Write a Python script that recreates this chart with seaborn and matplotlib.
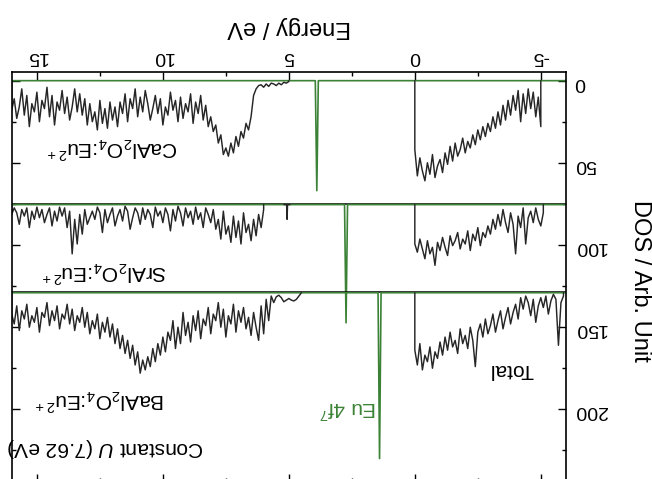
import numpy as np
import pandas as pd
import seaborn as sns
import matplotlib.pyplot as plt
from matplotlib.ticker import MultipleLocator

# DOS traces read off the (upside-down) scan, depth below each panel's baseline
# energy grid step 0.1 eV
ca_vb_e0, ca_vb_e1 = 0.0, -5.0
ca_vb = [42, 58, 47, 55, 61, 50, 57, 45, 59, 52, 48, 56, 44, 51, 40, 49, 38, 46, 42, 35,
         44, 37, 41, 33, 39, 30, 36, 28, 34, 26, 31, 22, 29, 19, 27, 15, 24, 12, 21, 9,
         18, 6, 25, 8, 20, 5, 17, 7, 22, 10, 28]
ca_cb_e0, ca_cb_e1 = 5.0, 16.0
ca_cb = [0.5, 1.5, 1, 2.5, 1.5, 3, 2, 1.5, 3.5, 2, 4, 2.5, 3, 5, 9,
         22, 30, 26, 35, 31, 40, 34, 44, 38, 46, 41, 45, 33, 38, 27, 31, 22,
         28, 15, 24, 9, 20, 13, 26, 8, 19, 14, 23, 10, 25, 12, 18, 7, 21, 16, 27, 11, 20, 9, 17, 24,
         14, 6, 19, 10, 22, 5, 17, 11, 25, 8, 20, 13, 28, 16,
         24, 13, 29, 17, 26, 12, 30, 19, 25, 14, 27, 11, 21,
         8, 19, 5, 16, 24, 10, 20, 6, 18, 13, 27, 9, 22, 4, 17, 12, 25, 7, 19, 14, 28, 9, 21, 5,
         16, 23, 11, 18]

sr_vb_e0, sr_vb_e1 = 0.0, -5.1
sr_vb = [24, 29, 21, 27, 33, 22, 30, 26, 37, 23,
         28, 20, 26, 31, 19, 25, 22, 17, 27, 21,
         24, 16, 28, 18, 22, 14, 25, 17, 20, 13,
         18, 9, 15, 6, 13, 3, 11, 17, 5, 12,
         30, 7, 14, 2, 24, 8, 4, 11, 2, 9,
         13, 5]
sr_cb_e0, sr_cb_e1 = 6.0, 16.0
sr_cb = [3, 14, 6, 19, 9, 22, 12, 17, 5, 24,
         10, 20, 7, 23, 13, 18, 4, 21, 9, 15,
         3, 11, 6, 2, 14, 5, 9, 1.5, 12, 4,
         8, 2, 13, 5, 1, 10, 3, 16, 6, 2,
         11, 4, 7, 1.5, 14, 6, 3, 9, 2, 12,
         5, 2, 8, 15, 4, 1, 10, 3, 7, 13,
         2, 6, 11, 3, 17, 5, 1.5, 9, 4, 8,
         12, 3, 18, 6, 24, 9, 30, 4, 14, 2,
         7, 1.5, 10, 4, 13, 2, 6, 11, 3, 8,
         1.5, 9, 4, 14, 2, 7, 3, 12, 5, 2, 6]
sr_spike_e = [4.95, 5.05, 5.07, 5.09, 5.2]
sr_spike = [0, 0, 9, 0, 0]

ba_vb_e0, ba_vb_e1 = 0.0, -5.9
ba_vb = [35, 44, 31, 47, 38, 42, 33, 46, 36, 40,
         30, 38, 27, 35, 24, 33, 29, 37, 22, 31,
         26, 34, 21, 29, 45, 24, 19, 27, 16, 25,
         20, 13, 24, 17, 11, 22, 15, 9, 19, 12,
         7, 16, 3, 10, 2, 6, 14, 4, 18, 8,
         3, 9, 2, 13, 5, 1, 4, 32, 6, 2]
ba_cb_e0, ba_cb_e1 = 4.5, 16.0
ba_cb = [0, 2, 4, 5, 4.5, 3.5, 4.5, 5.5, 3, 1.5, 2.5, 6, 2, 17, 4,
         25, 8, 29, 21, 12, 26, 15, 22, 9, 18,
         11, 24, 7, 19, 14, 27, 10, 21, 6, 17,
         13, 25, 9, 20, 16, 28, 11, 23, 14, 30,
         18, 26, 12, 31, 21, 34, 17, 29, 24, 36,
         27, 38, 31, 42, 34, 45, 39, 47, 41, 49,
         36, 44, 32, 40, 29, 37, 26, 34, 22, 31,
         19, 27, 15, 24, 18, 28, 13, 22, 17, 25,
         12, 21, 9, 18, 14, 23, 10, 19, 7, 16,
         13, 22, 8, 17, 11, 20, 6, 15, 12, 24,
         9, 18, 14, 21, 7, 16, 11, 23, 8, 19, 13]

# Eu 4f7 partial DOS peaks
eu_peak_e = [3.89, 2.73, 1.40]
eu_peak_depth = [67, 72, 101]

panel_names = [r'CaAl$_2$O$_4$:Eu$^{2+}$', r'SrAl$_2$O$_4$:Eu$^{2+}$', r'BaAl$_2$O$_4$:Eu$^{2+}$']
panel_base = [0, 75.5, 129.2]

sns.set_theme(style='ticks')
plt.rcParams['font.family'] = ['Liberation Sans', 'DejaVu Sans']
plt.rcParams['mathtext.fontset'] = 'custom'
plt.rcParams['mathtext.rm'] = 'Liberation Sans'
plt.rcParams['mathtext.it'] = 'Liberation Sans:italic'
plt.rcParams['axes.unicode_minus'] = False
plt.rcParams['text.color'] = 'black'

black = '#262626'
green = '#3b8236'


def grid(e0, e1, n):
    step = 0.1 if e1 > e0 else -0.1
    return np.round(e0 + step * np.arange(n), 2)


fig = plt.figure(figsize=(6.52, 4.79), dpi=100)
ax = fig.add_axes([11.7 / 652, 1 - 482 / 479, (566 - 11.7) / 652, (482 - 72.3) / 479])

curves = [
    [(ca_vb_e0, ca_vb_e1, ca_vb), (ca_cb_e0, ca_cb_e1, ca_cb)],
    [(sr_vb_e0, sr_vb_e1, sr_vb), (sr_cb_e0, sr_cb_e1, sr_cb)],
    [(ba_vb_e0, ba_vb_e1, ba_vb), (ba_cb_e0, ba_cb_e1, ba_cb)],
]

for i, base in enumerate(panel_base):
    # divider (panel frame) for lower panels
    if i > 0:
        ax.axhline(base - 0.6, color='black', lw=1.1)
    # Eu 4f green: baseline + sharp peak
    c, d = eu_peak_e[i], eu_peak_depth[i]
    ge = [-6, c - 0.06, c, c + 0.06, 16]
    gd = [0, 0, d, 0, 0]
    sns.lineplot(x=ge, y=np.array(gd) + base, ax=ax, color=green, lw=1.2,
                 estimator=None, sort=False)
    for e0, e1, vals in curves[i]:
        e = grid(e0, e1, len(vals))
        df = pd.DataFrame({'E': np.r_[e[0], e, e[-1]], 'DOS': np.r_[0, vals, 0] + base})
        sns.lineplot(data=df, x='E', y='DOS', ax=ax, color=black, lw=1.05,
                     estimator=None, sort=False)

sns.lineplot(x=sr_spike_e, y=np.array(sr_spike) + panel_base[1], ax=ax, color=black,
             lw=1.0, estimator=None, sort=False)

ax.set_xlim(16, -6)
ax.set_ylim(244.5, -5.1)
ax.set_xlabel('')
ax.set_ylabel('')
ax.xaxis.set_major_locator(MultipleLocator(5))
ax.xaxis.set_minor_locator(MultipleLocator(2.5))
ax.yaxis.set_major_locator(MultipleLocator(50))
ax.yaxis.set_minor_locator(MultipleLocator(25))
ax.tick_params(which='both', direction='in', top=True, bottom=True, left=True, right=True,
               labeltop=True, labelbottom=False, labelright=True, labelleft=False,
               labelrotation=180, colors='black', labelsize=14)
ax.tick_params(which='major', length=5.5, width=1.0)
ax.tick_params(which='minor', length=3, width=1.0)
ax.tick_params(axis='x', pad=5)
ax.tick_params(axis='y', pad=6)
for s in ax.spines.values():
    s.set_color('black')
    s.set_linewidth(1.2)

def ftext(x, y, s, **kw):
    fig.text(x / 652, 1 - y / 479, s, ha='center', va='center', **kw)

ftext(289, 27, 'Energy / eV', rotation=180, fontsize=17)
ftext(640, 281, 'DOS / Arb. Unit', rotation=270, fontsize=17)
ftext(112, 148, panel_names[0], rotation=180, fontsize=15)
ftext(104, 272, panel_names[1], rotation=180, fontsize=15)
ftext(100, 400, panel_names[2], rotation=180, fontsize=15)
ftext(106, 448, r'Constant $U$ (7.62 eV)', rotation=180, fontsize=15)
ftext(348, 408, r'Eu 4f$^7$', rotation=180, fontsize=15, color=green)
ftext(511, 369, 'Total', rotation=180, fontsize=15)

fig.savefig('out.png', dpi=100)
